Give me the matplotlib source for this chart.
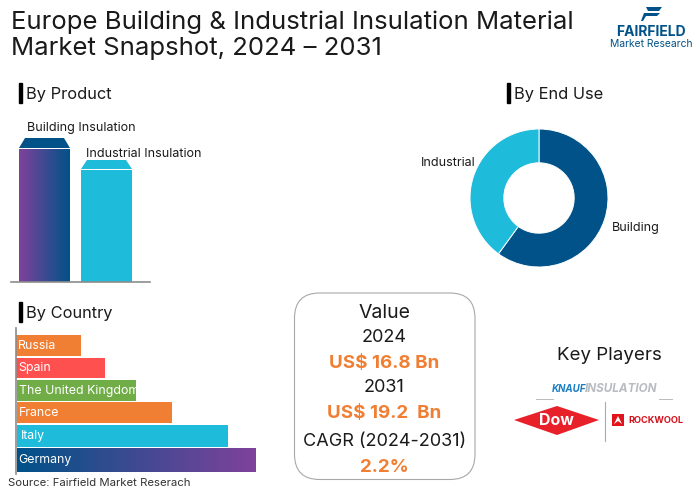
import numpy as np
import matplotlib
matplotlib.use("Agg")
import matplotlib.pyplot as plt
from matplotlib.colors import LinearSegmentedColormap
from matplotlib.patches import FancyBboxPatch, Polygon, Rectangle

plt.rcParams['font.family'] = ['Inter', 'DejaVu Sans']

title_lines = ["Europe Building & Industrial Insulation Material", "Market Snapshot, 2024 \u2013 2031"]
product_names = ["Building Insulation", "Industrial Insulation"]
product_values = [133, 112]
enduse_names = ["Building", "Industrial"]
enduse_values = [60, 40]
countries = ["Germany", "Italy", "France", "The United Kingdom", "Spain", "Russia"]
country_values = [239, 211, 155, 119, 89, 65]
value_lines = ["Value", "2024", "US$ 16.8 Bn", "2031", "US$ 19.2  Bn", "CAGR (2024-2031)", "2.2%"]

NAVY = "#005288"; CYAN = "#1FBBDB"; ORANGE = "#F07F33"; PURPLE = "#7F429B"
RED = "#FF5050"; GREEN = "#70AD47"; DARK = "#1a1a1a"
W, H = 700, 491
fig = plt.figure(figsize=(7, 4.91), dpi=100, facecolor="white")

def axpx(l, t, r, b, **kw):
    return fig.add_axes([l / W, 1 - b / H, (r - l) / W, (b - t) / H], **kw)

def T(x, y, s, size, color=DARK, ha="left", va="center", **kw):
    return fig.text(x / W, 1 - (y + 1.5) / H, s, fontsize=size, color=color, ha=ha, va=va, **kw)

def header(x, y, s):
    fig.add_artist(Rectangle((x / W, 1 - (y + 10) / H), 3 / W, 20 / H, color="black", transform=fig.transFigure))
    T(x + 7, y, s, 11.8)

grad_pn = LinearSegmentedColormap.from_list("pn", [PURPLE, NAVY])

# Titles
T(11, 20.5, title_lines[0], 18.5)
T(11, 46.5, title_lines[1], 18.5)
header(19, 93, "By Product")
header(507, 93, "By End Use")
header(19, 312, "By Country")

# By Product
ax = axpx(11, 130, 150, 282)
ax.set_xlim(11, 150); ax.set_ylim(0, 152); ax.axis("off")
xs = [44.5, 106.5]
bars = ax.bar(xs, product_values, width=51, color=[NAVY, CYAN], zorder=2)
im = ax.imshow(np.linspace(0, 1, 256).reshape(1, -1), cmap=grad_pn, aspect="auto",
               extent=[19, 70, 0, product_values[0]], zorder=3)
im.set_clip_path(bars[0])
ax.set_xlim(11, 150); ax.set_ylim(0, 152)
caps = [10, 9]
for b, c, col in zip(bars, caps, [NAVY, CYAN]):
    x0, x1, top = b.get_x(), b.get_x() + b.get_width(), b.get_height()
    ax.add_patch(Polygon([(x0, top + 1), (x1, top + 1), (x1 - 6, top + c + 1), (x0 + 6, top + c + 1)],
                         closed=True, color=col, lw=0, zorder=3))
ax.plot([11, 150], [0, 0], color="#8c8c8c", lw=1.2, zorder=4, clip_on=False)
T(27, 126.5, product_names[0], 9)
T(86, 152.5, product_names[1], 9)

# By End Use
ax = axpx(470, 129, 608, 267)
ax.pie(enduse_values, colors=[NAVY, CYAN], startangle=90, counterclock=False, radius=1,
       wedgeprops=dict(width=0.49, lw=0.7, edgecolor="white"))
ax.set_xlim(-1, 1); ax.set_ylim(-1, 1)
T(612, 227, enduse_names[0], 9)
T(421, 161, enduse_names[1], 9)

# By Country
ax = axpx(16, 328, 262, 474)
ax.set_xlim(0, 246); ax.set_ylim(474, 328); ax.axis("off")
fills = [NAVY, CYAN, ORANGE, GREEN, RED, ORANGE]
row_y = [460, 436, 412.5, 390.5, 368, 345.5]
row_h = [24, 22, 21, 21, 20.5, 21]
lefts = [1, 1, 1, 1, 0, 0]
hb = ax.barh(row_y, country_values, height=row_h, left=lefts, color=fills, zorder=2)
im = ax.imshow(np.linspace(0, 1, 256).reshape(1, -1), cmap=grad_pn, aspect="auto",
               extent=[1 + country_values[0], 1, 472, 448], zorder=3)
im.set_clip_path(hb[0])
ax.set_xlim(0, 246); ax.set_ylim(474, 328)
ax.plot([0, 0], [328, 474], color="#8c8c8c", lw=1.2, zorder=4, clip_on=False)
offs = [2, 4.5, 3, 3, 2, 2]
for yi, name, o in zip(row_y, countries, offs):
    ax.text(o, yi, name, color="white", fontsize=8.9, va="center", ha="left", zorder=5)
T(8, 482, "Source: Fairfield Market Reserach", 8.2, color="#333333")

# Value box
fig.add_artist(FancyBboxPatch((294.5 / W, 1 - 479.5 / H), 180.5 / W, 186.5 / H,
    boxstyle="round,pad=0,rounding_size=0.036", transform=fig.transFigure,
    fc="white", ec="#a8a8a8", lw=0.8, mutation_aspect=W / H))
ys = [311.5, 336.5, 361.5, 386.5, 412.5, 440.5, 465.5]
sizes = [14, 13, 13.5, 13, 13.5, 13, 13.5]
cols = [DARK, DARK, ORANGE, DARK, ORANGE, DARK, ORANGE]
for yy, s, sz, c in zip(ys, value_lines, sizes, cols):
    T(384.5, yy, s, sz, color=c, ha="center", weight="bold" if c == ORANGE else "normal")

# Key players
T(609, 354, "Key Players", 13.5, ha="center")
T(552, 388, "KNAUF", 7, color="#1D7FC1", weight="bold", style="italic")
T(585, 388, "INSULATION", 8.4, color="#B6BCC0", weight="bold", style="italic")
fig.add_artist(plt.Line2D([536 / W, 553 / W], [1 - 399 / H] * 2, color="#bbbbbb", lw=0.7))
fig.add_artist(plt.Line2D([659 / W, 672 / W], [1 - 399 / H] * 2, color="#bbbbbb", lw=0.7))
fig.add_artist(Polygon([(514 / W, 1 - 420 / H), (557 / W, 1 - 406 / H), (599 / W, 1 - 420 / H), (557 / W, 1 - 435 / H)],
                       closed=True, color="#E8202A", transform=fig.transFigure, lw=0))
T(556, 419, "Dow", 11.5, color="white", ha="center", weight="bold")
fig.add_artist(plt.Line2D([604.5 / W] * 2, [1 - 402 / H, 1 - 441 / H], color="#aaaaaa", lw=0.8))
fig.add_artist(Rectangle((612 / W, 1 - 426 / H), 12 / W, 12 / H, color="#E1141E", transform=fig.transFigure, lw=0))
fig.add_artist(Polygon([(614 / W, 1 - 424 / H), (618 / W, 1 - 416 / H), (622 / W, 1 - 424 / H), (618 / W, 1 - 421 / H)],
                       closed=True, color="white", transform=fig.transFigure, lw=0))
T(628, 419, "ROCKWOOL", 6.6, color="#D5121C", weight="bold")

# Fairfield logo
fig.add_artist(Polygon([(646 / W, 1 - 7 / H), (662 / W, 1 - 7 / H), (659 / W, 1 - 11 / H), (648 / W, 1 - 11 / H)],
                       closed=True, color=NAVY, transform=fig.transFigure, lw=0))
fig.add_artist(Polygon([(644 / W, 1 - 13 / H), (660 / W, 1 - 13 / H), (657 / W, 1 - 16 / H), (646 / W, 1 - 16 / H), (643 / W, 1 - 21 / H), (641 / W, 1 - 21 / H)],
                       closed=True, color=NAVY, transform=fig.transFigure, lw=0))
T(651, 30.5, "FAIRFIELD", 10, color=NAVY, ha="center", weight="bold")
T(651, 42.5, "Market Research", 7.4, color=NAVY, ha="center")

fig.savefig("out.png", dpi=100)
